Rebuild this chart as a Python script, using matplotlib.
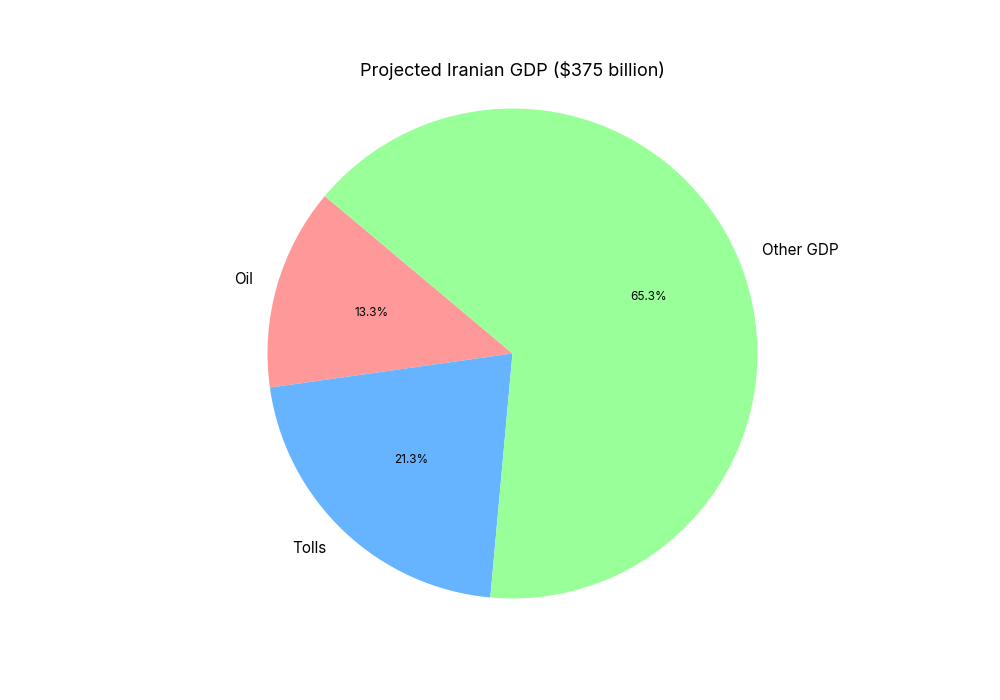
import matplotlib
matplotlib.use("Agg")
import matplotlib.pyplot as plt

plt.rcParams['font.family'] = ['Inter', 'DejaVu Sans']

labels = ['Oil', 'Tolls', 'Other GDP']
values = [50, 80, 245]
colors = ['#ff9999', '#66b3ff', '#99ff99']
title = 'Projected Iranian GDP ($375 billion)'

fig, ax = plt.subplots(figsize=(10, 7), dpi=100)
wedges, texts, autotexts = ax.pie(values, labels=labels, colors=colors,
                                  autopct='%1.1f%%', startangle=140)
for t in texts:
    t.set_fontsize(11)
for t in autotexts:
    t.set_fontsize(8.5)
ax.axis('equal')
ax.set_ylim(-1.1, 1.1)
ax.set_title(title, fontsize=13)
fig.savefig('out.png')
